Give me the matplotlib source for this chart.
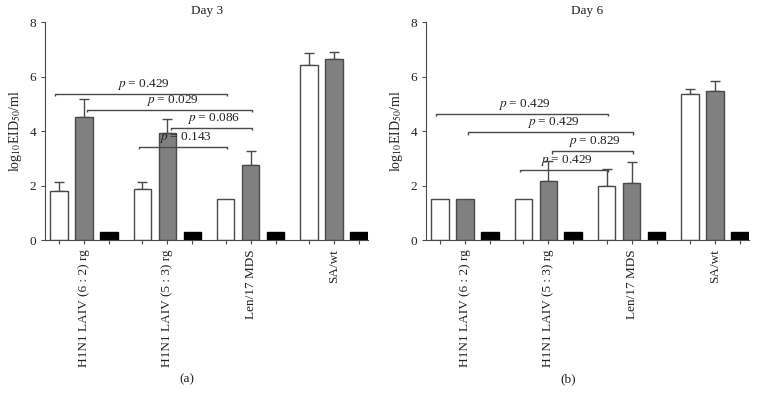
import matplotlib
matplotlib.use("Agg")
import matplotlib.pyplot as plt
import numpy as np

plt.rcParams['font.family'] = ['Liberation Serif', 'DejaVu Serif']
plt.rcParams['mathtext.fontset'] = 'stix'

categories = ["H1N1 LAIV (6 : 2) rg", "H1N1 LAIV (5 : 3) rg", "Len/17 MDS", "SA/wt"]

# Day 3
d3_white = [1.8, 1.87, 1.5, 6.43]
d3_white_err = [0.33, 0.25, 0.0, 0.44]
d3_gray = [4.53, 3.94, 2.77, 6.63]
d3_gray_err = [0.65, 0.52, 0.49, 0.26]
d3_black = [0.3, 0.3, 0.3, 0.3]
# brackets: (group_a, bar_a, group_b, bar_b, height, label)
d3_brackets = [(0, 0, 2, 0, 5.37, "0.429"),
               (0, 1, 2, 1, 4.78, "0.029"),
               (1, 1, 2, 1, 4.11, "0.086"),
               (1, 0, 2, 0, 3.41, "0.143")]

# Day 6
d6_white = [1.5, 1.5, 1.98, 5.37]
d6_white_err = [0.0, 0.0, 0.62, 0.16]
d6_gray = [1.5, 2.16, 2.11, 5.48]
d6_gray_err = [0.0, 0.74, 0.74, 0.37]
d6_black = [0.3, 0.3, 0.3, 0.3]
d6_brackets = [(0, 0, 2, 0, 4.62, "0.429"),
               (0, 1, 2, 1, 3.95, "0.429"),
               (1, 1, 2, 1, 3.25, "0.829"),
               (1, 0, 2, 0, 2.56, "0.429")]

titles = ["Day 3", "Day 6"]
panel_labels = ["(a)", "(b)"]

G = 3.34
W = 0.7
edge = "#4a4a4a"
groups = np.arange(len(categories)) * G

fig = plt.figure(figsize=(7.62, 4.05), dpi=100)
ax_pos = [[0.0591, 0.4074, 0.4239, 0.538], [0.559, 0.4074, 0.4239, 0.538]]

panels = [
    (d3_white, d3_white_err, d3_gray, d3_gray_err, d3_black, d3_brackets),
    (d6_white, d6_white_err, d6_gray, d6_gray_err, d6_black, d6_brackets),
]

for k, (wv, we, gv, ge, bv, brs) in enumerate(panels):
    ax = fig.add_axes(ax_pos[k])
    xw = groups - 1
    xg = groups
    xb = groups + 1
    ax.bar(xw, wv, W, color="white", edgecolor=edge, linewidth=1.0, zorder=2)
    ax.bar(xg, gv, W, color="#808080", edgecolor=edge, linewidth=1.0, zorder=2)
    ax.bar(xb, bv, W, color="black", edgecolor="black", linewidth=1.0, zorder=2)
    for xs, vs, es in ((xw, wv, we), (xg, gv, ge)):
        for x, v, e in zip(xs, vs, es):
            if e > 0:
                ax.errorbar([x], [v], yerr=[[0], [e]], fmt="none", ecolor=edge,
                            elinewidth=1.0, capsize=3.5, capthick=1.0, zorder=1)
    for (ga, ba, gb, bb, h, lab) in brs:
        x1 = groups[ga] + (ba - 1) + (-0.15 if ba == 0 else 0.14)
        x2 = groups[gb] + (bb - 1) + 0.05
        ax.plot([x1, x1, x2, x2], [h - 0.08, h, h, h - 0.08], color=edge, lw=1.0,
                zorder=3, solid_capstyle="butt")
        ax.text((x1 + x2) / 2 + 0.1, h + 0.08, "$p$ = " + lab, ha="center", va="bottom",
                fontsize=9.5, color="#222222", zorder=4)
    ax.set_xlim(-1.56, 3 * G + 1.36)
    ax.set_ylim(0, 8)
    ax.set_yticks([0, 2, 4, 6, 8])
    ax.set_xticks(np.concatenate([xw, xg, xb]))
    ax.set_xticklabels([])
    for x, c in zip(xg, categories):
        ax.text(x, -0.35, c, rotation=90, ha="center", va="top", fontsize=9.5,
                color="#222222")
    ax.spines["top"].set_visible(False)
    ax.spines["right"].set_visible(False)
    ax.spines["left"].set_color(edge)
    ax.spines["bottom"].set_color(edge)
    ax.tick_params(axis="both", direction="out", length=3, color=edge,
                   labelsize=9.5, labelcolor="#222222", width=0.8)
    ax.set_ylabel("log$_{10}$EID$_{50}$/ml", fontsize=10, color="#222222", labelpad=4)
    ax.set_title(titles[k], fontsize=9.5, color="#222222", pad=6)
    ax.text(0.44, -0.64, panel_labels[k], transform=ax.transAxes, ha="center",
            va="center", fontsize=9.5, color="#222222")

fig.savefig("out.png", dpi=100)
